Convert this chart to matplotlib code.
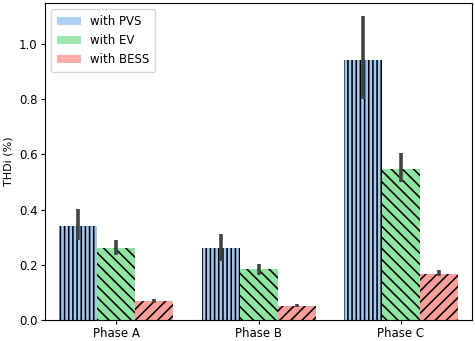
import matplotlib
matplotlib.use("Agg")
import matplotlib.pyplot as plt
from matplotlib.patches import Patch
import numpy as np

plt.rcParams["font.family"] = "DejaVu Sans"
plt.rcParams["hatch.linewidth"] = 1.15

phases = ["Phase A", "Phase B", "Phase C"]
series = ["with PVS", "with EV", "with BESS"]

pvs_mean = [0.342, 0.260, 0.942]
pvs_lo = [0.288, 0.213, 0.800]
pvs_hi = [0.403, 0.312, 1.101]

ev_mean = [0.260, 0.183, 0.549]
ev_lo = [0.236, 0.162, 0.499]
ev_hi = [0.288, 0.204, 0.605]

bess_mean = [0.068, 0.051, 0.168]
bess_lo = [0.061, 0.046, 0.158]
bess_hi = [0.076, 0.056, 0.180]

colors = ["#a1c9f4", "#8de5a1", "#ff9f9b"]
hatches = ["||||", "\\\\\\", "///"]

fig, ax = plt.subplots(figsize=(4.75, 3.41), dpi=100)
fig.subplots_adjust(left=0.095, right=0.994, top=0.99, bottom=0.062)

x = np.arange(len(phases))
w = 0.8 / 3
data = [(pvs_mean, pvs_lo, pvs_hi), (ev_mean, ev_lo, ev_hi), (bess_mean, bess_lo, bess_hi)]
for i, (m, lo, hi) in enumerate(data):
    pos = x - 0.8 / 2 + w / 2 + i * w
    ax.bar(pos, m, width=w, color=colors[i], edgecolor="black", linewidth=0,
           hatch=hatches[i])
    ax.vlines(pos, lo, hi, color="#424242", linewidth=2.6, zorder=3)

ax.set_xlim(-0.5, 2.5)
ax.set_ylim(0, 1.148)
ax.set_xticks(x)
ax.set_xticklabels(phases, fontsize=8.5)
ax.set_yticks([0.0, 0.2, 0.4, 0.6, 0.8, 1.0])
ax.set_yticklabels(["0.0", "0.2", "0.4", "0.6", "0.8", "1.0"], fontsize=8.5)
ax.tick_params(length=3, pad=2.5)
ax.set_ylabel("THDi (%)", fontsize=8, labelpad=4)

handles = [Patch(facecolor=c, alpha=0.85, label=s) for c, s in zip(colors, series)]
ax.legend(handles=handles, loc="upper left", fontsize=8.5, borderpad=0.5)

fig.savefig("out.png", dpi=100)
